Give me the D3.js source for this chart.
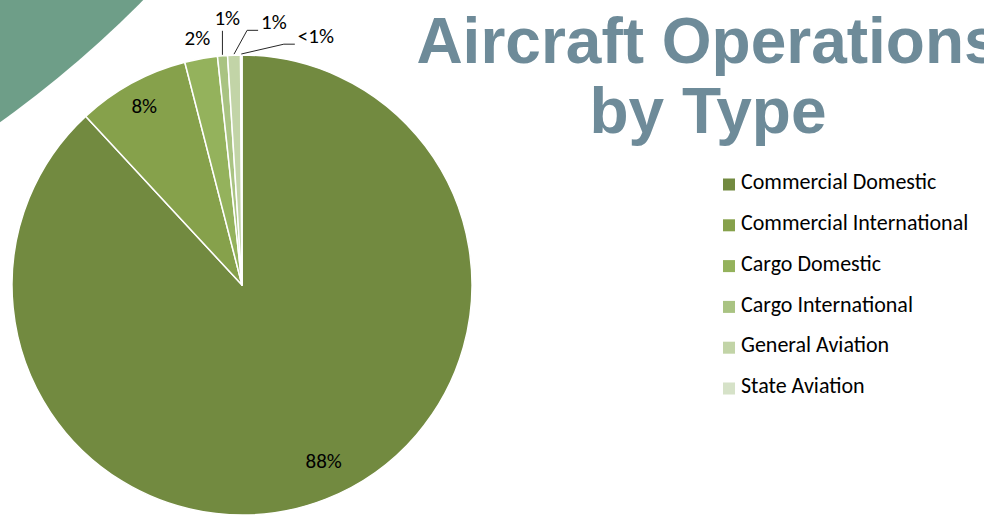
<!DOCTYPE html>
<html>
<head>
<meta charset="utf-8">
<script src="https://cdn.jsdelivr.net/npm/d3@7/dist/d3.min.js"></script>
<style>
  html, body { margin: 0; padding: 0; background: #ffffff; }
  svg { display: block; }
</style>
</head>
<body>
<svg id="chart" width="984" height="520"></svg>
<script>
// Share of aircraft operations by type (percent)
const categories = [
  "Commercial Domestic",
  "Commercial International",
  "Cargo Domestic",
  "Cargo International",
  "General Aviation",
  "State Aviation"
];
const shares = [88.1, 7.9, 2.3, 0.7, 0.9, 0.1];
const sliceColors = ["#728A40", "#86A14B", "#94B25C", "#A9C382", "#C2D4A7", "#D6E2C8"];

// Label layout: angular nudge (deg) from slice mid-angle, distance as a fraction of the radius,
// and whether a leader line connects the label to its slice.
const labelLayout = [
  { nudge: -3.5, dist: 0.843, leader: false },
  { nudge: 0,    dist: 0.887, leader: false },
  { nudge: 0,    dist: 1.091, leader: false },
  { nudge: 1.7,  dist: 1.165, leader: true },
  { nudge: 8.9,  dist: 1.152, leader: true },
  { nudge: 16.7, dist: 1.130, leader: true }
];

const titleLines = ["Aircraft Operations", "by Type"];

const svg = d3.select("#chart");
const labelFont = "Carlito, Calibri, Lato, 'Open Sans', sans-serif";

// Decorative teal arc in the upper-left corner
svg.append("circle")
  .attr("cx", -650).attr("cy", -785).attr("r", 1116)
  .attr("fill", "#6E9E88");

// Title (runs past the right edge of the slide)
const title = svg.append("text")
  .attr("font-family", "'Liberation Sans', Arial, sans-serif")
  .attr("font-weight", "bold")
  .attr("font-size", 64)
  .attr("fill", "#6E8B99")
  .attr("text-anchor", "middle");
title.selectAll("tspan").data(titleLines).join("tspan")
  .attr("x", 708)
  .attr("y", (d, i) => 63 + i * 69.5)
  .text(d => d);

// Pie
const cx = 242, cy = 285, radius = 230;
const toRad = Math.PI / 180;
const labelSize = 21;

const pie = d3.pie().sort(null).value(d => d.value);
const arcs = pie(categories.map((c, i) => ({ name: c, value: shares[i], color: sliceColors[i] })));
const arc = d3.arc().innerRadius(0).outerRadius(radius);

const g = svg.append("g").attr("transform", `translate(${cx},${cy})`);

g.selectAll("path.slice").data(arcs).join("path")
  .attr("class", "slice")
  .attr("d", arc)
  .attr("fill", d => d.data.color)
  .attr("stroke", "#ffffff")
  .attr("stroke-width", 1.5)
  .attr("stroke-linejoin", "round");

const pctText = v => (v < 0.5 ? "<1%" : Math.round(v) + "%");
const polar = (angle, r) => [Math.sin(angle) * r, -Math.cos(angle) * r];

arcs.forEach((d, i) => {
  const lay = labelLayout[i];
  const mid = (d.startAngle + d.endAngle) / 2;
  const [lx, ly] = polar(mid + lay.nudge * toRad, radius * lay.dist);

  const label = g.append("text")
    .attr("x", lx)
    .attr("y", ly)
    .attr("dy", "0.35em")
    .attr("text-anchor", "middle")
    .attr("font-family", labelFont)
    .attr("font-size", labelSize)
    .attr("fill", "#000000")
    .text(pctText(d.data.value));

  if (!lay.leader) return;

  const w = label.node().getComputedTextLength();
  const baseline = ly + 0.35 * labelSize;
  const [sx, sy] = polar(mid, radius + 1);
  let pts;
  if (sx >= lx - w / 2 && sx <= lx + w / 2) {
    // label sits right above its slice: straight line up to the label
    pts = [[sx, sy], [sx, baseline + 6]];
  } else {
    // elbow line that meets the label's left side
    const ex = lx - w / 2 - 3;
    const ey = baseline + 1;
    pts = [[sx, sy], [ex - 11, ey], [ex, ey]];
  }
  g.append("path")
    .attr("d", d3.line()(pts))
    .attr("fill", "none")
    .attr("stroke", "#262626")
    .attr("stroke-width", 1);
});

// Legend
const legend = svg.append("g").attr("transform", "translate(723,0)");
const rowY = i => 184.5 + i * 40.8;
const rows = legend.selectAll("g").data(arcs).join("g")
  .attr("transform", (d, i) => `translate(0,${rowY(i)})`);
rows.append("rect")
  .attr("x", 0).attr("y", -6)
  .attr("width", 12).attr("height", 12)
  .attr("fill", d => d.data.color);
rows.append("text")
  .attr("x", 18)
  .attr("y", -3)
  .attr("dy", "0.35em")
  .attr("font-family", labelFont)
  .attr("font-size", 22)
  .attr("fill", "#000000")
  .text(d => d.data.name);
</script>
</body>
</html>
